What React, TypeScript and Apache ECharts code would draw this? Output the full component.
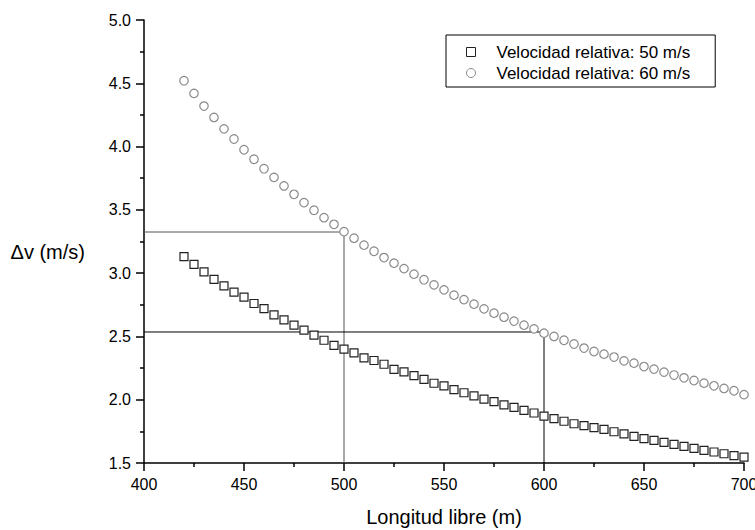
import React, { useEffect, useRef } from "react";
import * as echarts from "echarts";

const lengths = [
  420, 425, 430, 435, 440, 445, 450, 455, 460, 465, 470, 475, 480, 485, 490, 495,
  500, 505, 510, 515, 520, 525, 530, 535, 540, 545, 550, 555, 560, 565, 570, 575,
  580, 585, 590, 595, 600, 605, 610, 615, 620, 625, 630, 635, 640, 645, 650, 655,
  660, 665, 670, 675, 680, 685, 690, 695, 700,
];

const dv50 = [
  3.13, 3.07, 3.01, 2.95, 2.9, 2.85, 2.81, 2.76, 2.72, 2.67, 2.63, 2.59, 2.55, 2.51, 2.47, 2.43,
  2.4, 2.37, 2.33, 2.31, 2.28, 2.24, 2.22, 2.19, 2.16, 2.13, 2.11, 2.08, 2.055, 2.03, 2.005, 1.985,
  1.96, 1.94, 1.915, 1.895, 1.87, 1.85, 1.83, 1.81, 1.795, 1.78, 1.765, 1.747, 1.73, 1.71, 1.692, 1.678,
  1.663, 1.647, 1.631, 1.615, 1.6, 1.587, 1.573, 1.558, 1.547,
];

const dv60 = [
  4.52, 4.42, 4.32, 4.23, 4.14, 4.06, 3.975, 3.9, 3.825, 3.757, 3.689, 3.623, 3.557, 3.497, 3.438, 3.386,
  3.328, 3.276, 3.221, 3.173, 3.123, 3.079, 3.036, 2.992, 2.948, 2.907, 2.868, 2.826, 2.791, 2.755, 2.718, 2.684,
  2.652, 2.621, 2.589, 2.56, 2.526, 2.5, 2.47, 2.44, 2.408, 2.381, 2.36, 2.337, 2.307, 2.289, 2.262, 2.242,
  2.218, 2.195, 2.173, 2.152, 2.131, 2.11, 2.089, 2.071, 2.04,
];

const seriesNames = ["Velocidad relativa: 50 m/s", "Velocidad relativa: 60 m/s"];

const ref500X = [400, 500, 500];
const ref500Y = [3.325, 3.325, 1.5];
const ref600X = [400, 600, 600];
const ref600Y = [2.535, 2.535, 1.5];

const FONT = "'Liberation Sans', Arial, sans-serif";

export default function App() {
  const ref = useRef<HTMLDivElement>(null);

  useEffect(() => {
    if (!ref.current) return;
    const chart = echarts.init(ref.current, undefined, { renderer: "svg" });
    const zip = (xs: number[], ys: number[]) => xs.map((x, i) => [x, ys[i]]);

    chart.setOption({
      animation: false,
      backgroundColor: "#ffffff",
      textStyle: { fontFamily: FONT },
      grid: {
        left: 144,
        top: 20,
        right: 11,
        bottom: 67,
        containLabel: false,
        outerBoundsMode: "none",
      },
      legend: {
        orient: "vertical",
        left: 446,
        top: 35,
        data: seriesNames,
        borderColor: "#000",
        borderWidth: 1,
        padding: [7, 25, 4, 20],
        itemWidth: 9,
        itemHeight: 9,
        itemGap: 1,
        itemStyle: { borderWidth: 1 },
        textStyle: {
          fontFamily: FONT,
          fontSize: 17,
          color: "#000",
          lineHeight: 20,
          padding: [0, 0, 0, 16],
        },
      },
      xAxis: {
        type: "value",
        min: 400,
        max: 700,
        interval: 50,
        name: "Longitud libre (m)",
        nameLocation: "middle",
        nameGap: 44,
        nameTextStyle: { fontFamily: FONT, fontSize: 20, color: "#000" },
        axisLine: { show: true, lineStyle: { color: "#000", width: 1.5 } },
        axisTick: { show: true, inside: false, length: 8, lineStyle: { color: "#000", width: 1.5 } },
        minorTick: { show: true, splitNumber: 2, length: 4, lineStyle: { color: "#000", width: 1.5 } },
        axisLabel: { fontFamily: FONT, fontSize: 16, color: "#000", margin: 13 },
        splitLine: { show: false },
      },
      yAxis: {
        type: "value",
        min: 1.5,
        max: 5.0,
        interval: 0.5,
        name: "Δv (m/s)",
        nameLocation: "middle",
        nameRotate: 0,
        nameGap: 59,
        nameTextStyle: { fontFamily: FONT, fontSize: 20, color: "#000", verticalAlign: "top" },
        axisLine: { show: true, lineStyle: { color: "#000", width: 1.5 } },
        axisTick: { show: true, inside: false, length: 8, lineStyle: { color: "#000", width: 1.5 } },
        minorTick: { show: true, splitNumber: 2, length: 4, lineStyle: { color: "#000", width: 1.5 } },
        axisLabel: {
          fontFamily: FONT,
          fontSize: 16,
          color: "#000",
          margin: 13,
          formatter: (v: number) => v.toFixed(1),
        },
        splitLine: { show: false },
      },
      series: [
        {
          name: "ref500",
          type: "line",
          data: zip(ref500X, ref500Y),
          symbol: "none",
          silent: true,
          lineStyle: { color: "#555", width: 1 },
          z: 1,
        },
        {
          name: "ref600",
          type: "line",
          data: zip(ref600X, ref600Y),
          symbol: "none",
          silent: true,
          lineStyle: { color: "#000", width: 1 },
          z: 1,
        },
        {
          name: seriesNames[0],
          type: "scatter",
          data: zip(lengths, dv50),
          symbol: "rect",
          symbolSize: 8,
          itemStyle: { color: "#ffffff", borderColor: "#222", borderWidth: 1.2, opacity: 1 },
          z: 3,
        },
        {
          name: seriesNames[1],
          type: "scatter",
          data: zip(lengths, dv60),
          symbol: "circle",
          symbolSize: 8.5,
          itemStyle: { color: "#ffffff", borderColor: "#8a8a8a", borderWidth: 1.2, opacity: 1 },
          z: 3,
        },
      ],
    });

    return () => chart.dispose();
  }, []);

  return (
    <div
      ref={ref}
      style={{ position: "fixed", left: 0, top: 0, width: 755, height: 530, background: "#fff" }}
    />
  );
}
